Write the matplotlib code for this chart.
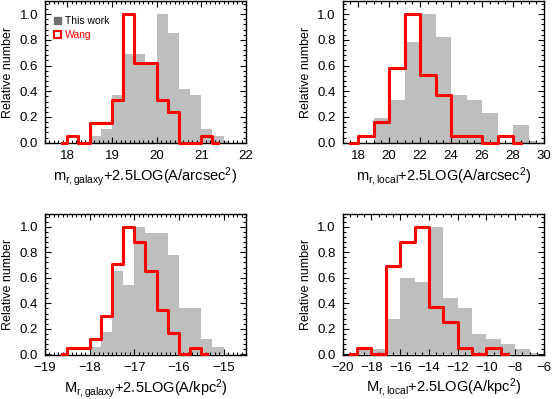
import matplotlib
matplotlib.use('Agg')
import matplotlib.pyplot as plt
from matplotlib.patches import Patch
from matplotlib.ticker import MultipleLocator
import numpy as np

## Data: histogram bin centres and relative numbers
# panel 1: m_r,galaxy
p1_wang_x = [17.875, 18.125, 18.375, 18.625, 18.875, 19.125, 19.375, 19.625,
             19.875, 20.125, 20.375, 20.625, 20.875, 21.125, 21.375]
p1_wang_y = [0, 0.05, 0, 0.15, 0.15, 0.33, 1.0, 0.62, 0.62, 0.33, 0.24, 0, 0, 0.05, 0]
p1_this_x = [18.375, 18.625, 18.875, 19.125, 19.375, 19.625, 19.875, 20.125,
             20.375, 20.625, 20.875, 21.125, 21.375, 21.625]
p1_this_y = [0, 0.05, 0.11, 0.37, 0.69, 0.69, 0.63, 1.0, 0.85, 0.42, 0.37, 0.11, 0.05, 0.01]

# panel 2: m_r,local
p2_wang_x = [17.5, 18.5, 19.5, 20.5, 21.5, 22.5, 23.5, 24.5, 25.5, 26.5, 27.5, 28.5]
p2_wang_y = [0, 0.05, 0.16, 0.58, 1.0, 0.53, 0.37, 0.05, 0.05, 0, 0.05, 0]
p2_this_x = [18.5, 19.5, 20.5, 21.5, 22.5, 23.5, 24.5, 25.5, 26.5, 27.5, 28.5, 29.5]
p2_this_y = [0, 0.19, 0.33, 0.78, 1.0, 0.82, 0.37, 0.33, 0.23, 0, 0.14, 0.01]

# panel 3: M_r,galaxy
p3_wang_x = [-18.625, -18.375, -18.125, -17.875, -17.625, -17.375, -17.125,
             -16.875, -16.625, -16.375, -16.125, -15.875, -15.625, -15.375]
p3_wang_y = [0, 0.05, 0.05, 0.12, 0.30, 0.71, 1.0, 0.88, 0.65, 0.35, 0.17, 0, 0.05, 0]
p3_this_x = [-18.125, -17.875, -17.625, -17.375, -17.125, -16.875, -16.625,
             -16.375, -16.125, -15.875, -15.625, -15.375, -15.125, -14.875]
p3_this_y = [0, 0.06, 0.175, 0.65, 0.54, 1.0, 0.95, 0.95, 0.78, 0.36, 0.36, 0.12, 0.06, 0.01]

# panel 4: M_r,local
p4_wang_x = [-19.5, -18.5, -17.5, -16.5, -15.5, -14.5, -13.5, -12.5, -11.5, -10.5, -9.5, -8.5]
p4_wang_y = [0, 0.05, 0, 0.69, 0.88, 1.0, 0.37, 0.25, 0.05, 0, 0.05, 0]
p4_this_x = [-19.5, -18.5, -17.5, -16.5, -15.5, -14.5, -13.5, -12.5, -11.5,
             -10.5, -9.5, -8.5, -7.5, -6.5]
p4_this_y = [0, 0.04, 0.04, 0.28, 0.60, 0.57, 1.0, 0.44, 0.36, 0.16, 0.12, 0.08, 0.04, 0.01]

xlabels = [r'm$_{\rm r,galaxy}$+2.5LOG(A/arcsec$^{2}$)',
           r'm$_{\rm r,local}$+2.5LOG(A/arcsec$^{2}$)',
           r'M$_{\rm r,galaxy}$+2.5LOG(A/kpc$^{2}$)',
           r'M$_{\rm r,local}$+2.5LOG(A/kpc$^{2}$)']
xlims = [(17.5, 22), (17, 30), (-19, -14.5), (-20, -6)]
xmajor = [1, 2, 1, 2]
xminor = [0.1, 0.5, 0.1, 0.5]

panels = [(p1_this_x, p1_this_y, p1_wang_x, p1_wang_y),
          (p2_this_x, p2_this_y, p2_wang_x, p2_wang_y),
          (p3_this_x, p3_this_y, p3_wang_x, p3_wang_y),
          (p4_this_x, p4_this_y, p4_wang_x, p4_wang_y)]

plt.rcParams['font.family'] = ['Liberation Sans', 'DejaVu Sans']
plt.rcParams['mathtext.fontset'] = 'custom'
plt.rcParams['mathtext.rm'] = 'Liberation Sans'
plt.rcParams['mathtext.it'] = 'Liberation Sans:italic'
plt.rcParams['mathtext.bf'] = 'Liberation Sans:bold'

fig = plt.figure(figsize=(5.52, 3.99), dpi=100)
# axes rectangles in figure fractions
rects = [[0.0815, 0.6408, 0.3641, 0.3559],
         [0.6208, 0.6408, 0.3647, 0.3559],
         [0.0815, 0.1103, 0.3641, 0.3534],
         [0.6208, 0.1103, 0.3647, 0.3534]]

for i in range(4):
    ax = fig.add_axes(rects[i])
    tx, ty, wx, wy = panels[i]
    ax.fill_between(tx, ty, step='mid', color='#bebebe', linewidth=0)
    ax.step(wx, wy, where='mid', color='red', lw=2.2, clip_on=False, zorder=3)
    ax.set_xlim(xlims[i])
    ax.set_ylim(-0.005, 1.1)
    ax.xaxis.set_major_locator(MultipleLocator(xmajor[i]))
    ax.xaxis.set_minor_locator(MultipleLocator(xminor[i]))
    ax.yaxis.set_major_locator(MultipleLocator(0.2))
    ax.yaxis.set_minor_locator(MultipleLocator(0.04))
    ax.yaxis.set_major_formatter(plt.FormatStrFormatter('%.1f'))
    ax.tick_params(which='both', direction='in', top=True, right=True, width=0.8)
    ax.tick_params(which='major', length=4, labelsize=9.5, pad=5)
    ax.tick_params(which='minor', length=2)
    for s in ax.spines.values():
        s.set_linewidth(1.0)
    ax.set_xlabel(xlabels[i], fontsize=10.5, labelpad=2)
    ax.set_ylabel('Relative number', fontsize=9, labelpad=4)

    if i == 0:
        handles = [Patch(facecolor='#707070', edgecolor='#707070'),
                   Patch(facecolor='white', edgecolor='red', linewidth=1.5)]
        ax.legend(handles, ['This work', 'Wang'], loc='upper left', frameon=False,
                  fontsize=7.5, handlelength=0.6, handleheight=0.6, handletextpad=0.4,
                  labelspacing=0.35, borderaxespad=0.5, bbox_to_anchor=(0.0, 0.96),
                  labelcolor=['black', 'red'])

fig.savefig('out.png', dpi=100)
